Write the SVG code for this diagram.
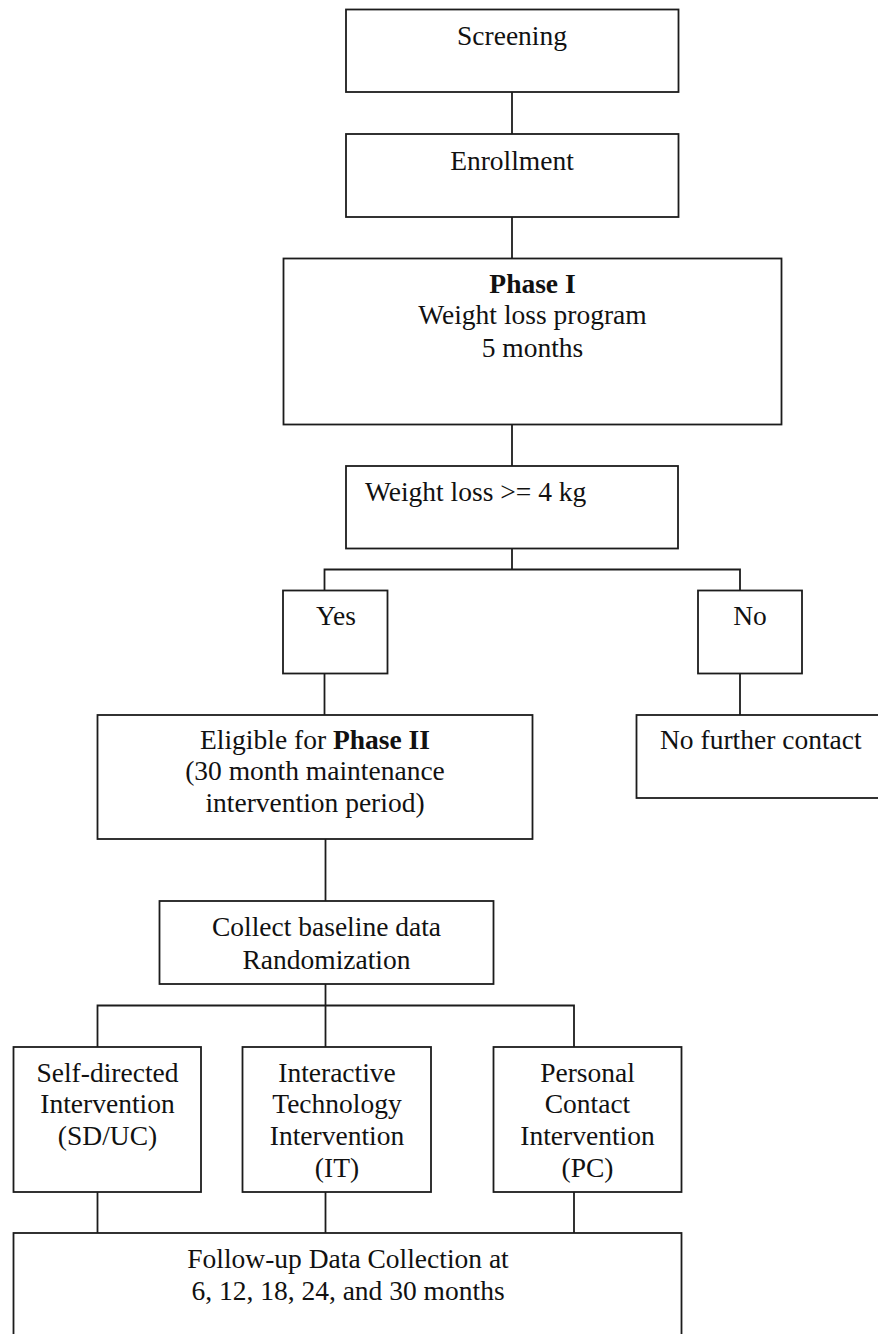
<svg xmlns="http://www.w3.org/2000/svg" width="878" height="1334" viewBox="0 0 878 1334">
<style>
.box{fill:#fff;stroke:#1c1c1c;stroke-width:1.8}
.ln{fill:none;stroke:#1c1c1c;stroke-width:1.8}
text{font-family:"Liberation Serif","Times New Roman",serif;font-size:27.5px;fill:#111}
.c{text-anchor:middle}
.b{font-weight:bold}
</style>
<rect width="878" height="1334" fill="#fff"/>
<g id="connectors">
<line class="ln" x1="512" y1="92" x2="512" y2="134"/>
<line class="ln" x1="512" y1="217" x2="512" y2="258"/>
<line class="ln" x1="512" y1="424" x2="512" y2="466"/>
<polyline class="ln" points="512,548 512,569.5"/>
<polyline class="ln" points="324.5,590 324.5,569.5 740,569.5 740,590"/>
<line class="ln" x1="324.5" y1="673" x2="324.5" y2="715"/>
<line class="ln" x1="740" y1="673" x2="740" y2="715"/>
<line class="ln" x1="325.5" y1="839" x2="325.5" y2="901"/>
<line class="ln" x1="325.5" y1="984" x2="325.5" y2="1047"/>
<polyline class="ln" points="97.5,1047 97.5,1005.5 574,1005.5 574,1047"/>
<line class="ln" x1="97.5" y1="1192" x2="97.5" y2="1233"/>
<line class="ln" x1="325.5" y1="1192" x2="325.5" y2="1233"/>
<line class="ln" x1="574" y1="1192" x2="574" y2="1233"/>
</g>
<g id="screening">
<rect class="box" x="346" y="9.5" width="332.5" height="82.5"/>
<text class="c" x="512" y="45">Screening</text>
</g>
<g id="enrollment">
<rect class="box" x="346" y="134" width="332.5" height="83"/>
<text class="c" x="512" y="169.5">Enrollment</text>
</g>
<g id="phase1">
<rect class="box" x="283.5" y="258.5" width="498" height="166"/>
<text class="c" x="532.5" y="292.5"><tspan class="b">Phase I</tspan></text>
<text class="c" x="532.5" y="323.5">Weight loss program</text>
<text class="c" x="532.5" y="357">5 months</text>
</g>
<g id="weightloss">
<rect class="box" x="346" y="466" width="332" height="82.5"/>
<text x="365" y="500.5">Weight loss &gt;= 4 kg</text>
</g>
<g id="yes">
<rect class="box" x="283" y="590.5" width="104.5" height="83"/>
<text class="c" x="336" y="625">Yes</text>
</g>
<g id="no">
<rect class="box" x="698" y="590.5" width="104" height="83"/>
<text class="c" x="750" y="625">No</text>
</g>
<g id="eligible">
<rect class="box" x="97.5" y="715" width="435" height="124"/>
<text class="c" x="315" y="748.5">Eligible for <tspan class="b">Phase II</tspan></text>
<text class="c" x="315" y="780">(30 month maintenance</text>
<text class="c" x="315" y="812">intervention period)</text>
</g>
<g id="nofurther">
<rect class="box" x="636.5" y="715" width="250" height="83"/>
<text x="660" y="749">No further contact</text>
</g>
<g id="baseline">
<rect class="box" x="159.5" y="901" width="334" height="83"/>
<text class="c" x="326.5" y="935.5">Collect baseline data</text>
<text class="c" x="326.5" y="968.5">Randomization</text>
</g>
<g id="sd">
<rect class="box" x="13.5" y="1047" width="187.5" height="145"/>
<text class="c" x="107.5" y="1081.5">Self-directed</text>
<text class="c" x="107.5" y="1113">Intervention</text>
<text class="c" x="107.5" y="1144.5">(SD/UC)</text>
</g>
<g id="it">
<rect class="box" x="242.5" y="1047" width="188.5" height="145"/>
<text class="c" x="337" y="1081.5">Interactive</text>
<text class="c" x="337" y="1113">Technology</text>
<text class="c" x="337" y="1144.5">Intervention</text>
<text class="c" x="337" y="1176.5">(IT)</text>
</g>
<g id="pc">
<rect class="box" x="493.5" y="1047" width="188" height="145"/>
<text class="c" x="587.5" y="1081.5">Personal</text>
<text class="c" x="587.5" y="1113">Contact</text>
<text class="c" x="587.5" y="1144.5">Intervention</text>
<text class="c" x="587.5" y="1176.5">(PC)</text>
</g>
<g id="followup">
<rect class="box" x="13.5" y="1233" width="668" height="120"/>
<text class="c" x="348" y="1267.5">Follow-up Data Collection at</text>
<text class="c" x="348" y="1299.5">6, 12, 18, 24, and 30 months</text>
</g>
</svg>
